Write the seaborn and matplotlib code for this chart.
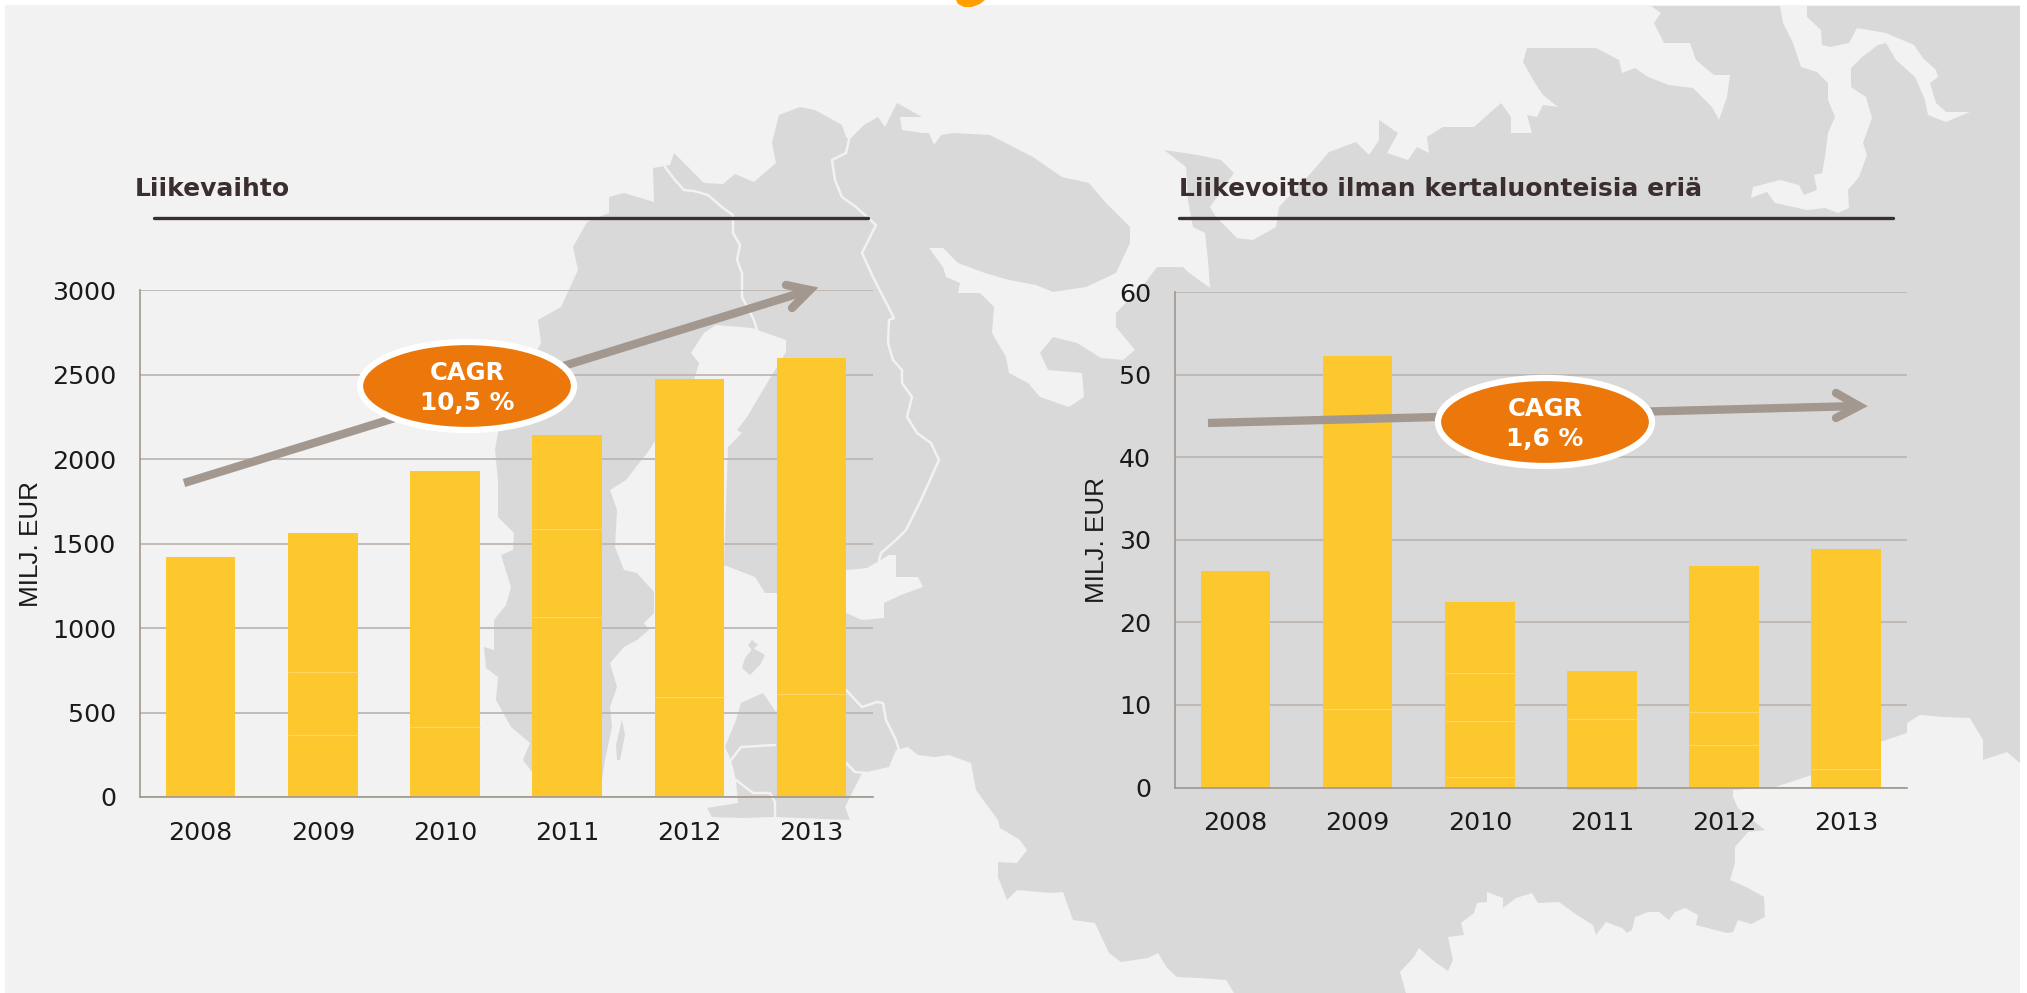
import matplotlib
matplotlib.use('Agg')
import matplotlib.pyplot as plt
from matplotlib.patches import Ellipse, Polygon, Rectangle
import seaborn as sns

# data
years = ['2008', '2009', '2010', '2011', '2012', '2013']
liikevaihto = [1420, 1565, 1930, 2143, 2473, 2597]
liikevoitto = [26.2, 52.3, 22.5, 14.1, 26.8, 28.9]
ticks_left = [0, 500, 1000, 1500, 2000, 2500, 3000]
ticks_right = [0, 10, 20, 30, 40, 50, 60]
# faint seams that show in the bars: (bar index, value)
seams_left = [(1, 742), (1, 366), (2, 413), (3, 1587), (3, 1066), (4, 592), (5, 610)]
seams_right = [(1, 9.5), (2, 13.9), (2, 8.1), (2, 1.25), (3, 8.3), (4, 9.1), (4, 5.1), (5, 2.2)]

W, H = 2027, 993
BG = '#f2f2f2'
LAND = '#d9d9d9'
BAR = '#fdc72e'
GRID = '#bfb7b1'
DARK = '#3a2e2e'
ARROW = '#a39890'
ORANGE = '#ec780b'
BAR_WIDTH = 0.57

# background map outline, pixels of the picture (decoration, not data)
land = [
    (800, 107), (779, 115), (772, 143), (776, 163), (754, 182), (735, 174), (723, 184), (704, 183),
    (691, 170), (674, 153), (670, 165), (653, 168), (654, 202), (624, 193), (609, 197), (609, 213),
    (587, 222), (573, 247), (578, 270), (561, 307), (538, 320), (541, 343), (537, 350), (498, 433),
    (495, 450), (498, 480), (498, 517), (514, 533), (513, 550), (501, 555), (511, 587), (506, 605),
    (494, 620), (494, 650), (484, 647), (486, 668), (498, 677), (496, 700), (511, 727), (530, 743),
    (523, 760), (532, 772), (545, 790), (570, 794), (598, 790), (602, 780), (605, 760), (612, 727),
    (610, 707), (617, 687), (610, 663), (624, 647), (637, 640), (649, 630), (644, 623), (617, 615),
    (603, 622), (644, 623), (654, 613), (654, 592), (637, 573), (624, 570), (615, 547), (617, 510),
    (610, 490), (626, 480), (636, 467), (648, 452), (665, 425), (680, 400), (694, 380), (699, 363),
    (691, 353), (704, 333), (716, 325), (752, 328), (786, 340), (786, 352), (769, 380), (747, 417),
    (737, 430), (742, 433), (728, 447), (724, 565), (755, 577), (765, 593), (777, 593), (846, 570),
    (867, 568), (889, 555), (896, 555), (896, 577), (918, 577), (923, 587), (901, 595), (884, 603),
    (884, 618), (862, 620), (846, 613), (776, 712), (763, 693), (741, 703), (736, 720), (725, 747),
    (731, 760), (736, 780), (738, 803), (707, 808), (712, 817), (741, 818), (775, 817), (850, 820),
    (845, 807), (862, 773), (889, 767), (896, 750), (908, 747), (918, 755), (935, 757), (949, 755),
    (971, 763), (976, 790), (998, 820), (1000, 828), (1020, 840), (1027, 850), (1017, 863), (998, 862),
    (998, 877), (1007, 900), (1017, 890), (1051, 893), (1063, 892), (1073, 920), (1095, 923),
    (1109, 953), (1121, 962), (1148, 958), (1158, 953), (1167, 968), (1177, 977), (1200, 978),
    (1226, 980), (1234, 993), (1406, 993), (1400, 972), (1414, 957), (1419, 948), (1435, 962),
    (1448, 971), (1453, 960), (1448, 937), (1464, 935), (1461, 923), (1474, 913), (1477, 903),
    (1487, 902), (1487, 892), (1503, 898), (1503, 908), (1516, 898), (1532, 893), (1538, 903),
    (1559, 902), (1577, 915), (1593, 925), (1596, 935), (1606, 922), (1622, 928), (1627, 933),
    (1632, 930), (1635, 917), (1648, 912), (1659, 912), (1669, 920), (1675, 912), (1685, 908),
    (1698, 915), (1696, 925), (1727, 933), (1733, 932), (1738, 920), (1751, 924), (1765, 917),
    (1764, 897), (1748, 888), (1730, 880), (1735, 863), (1735, 847), (1748, 832), (1765, 830),
    (1738, 808), (1733, 797), (1733, 790), (1775, 787), (1812, 775), (1880, 742), (1907, 733),
    (1907, 723), (1920, 715), (1944, 717), (1970, 718), (1983, 740), (1983, 760), (2007, 752),
    (2020, 763), (2020, 6),
    (1651, 6), (1661, 13), (1654, 23), (1664, 43), (1690, 43), (1696, 60), (1714, 75), (1730, 75),
    (1727, 97), (1719, 120), (1712, 107), (1693, 88), (1669, 85), (1648, 77), (1635, 68), (1622, 73),
    (1619, 60), (1596, 48), (1527, 48), (1523, 62), (1535, 83), (1543, 95), (1558, 107), (1543, 105),
    (1537, 117), (1527, 115), (1532, 133), (1511, 133), (1511, 117), (1501, 103), (1474, 127),
    (1443, 127), (1427, 137), (1429, 153), (1417, 147), (1408, 160), (1387, 153), (1398, 133),
    (1379, 120), (1400, 113), (1379, 120), (1379, 140), (1369, 155), (1356, 142), (1329, 152),
    (1311, 173), (1279, 207), (1276, 227), (1253, 240), (1237, 238), (1216, 217), (1210, 207),
    (1234, 173), (1221, 160), (1198, 155), (1164, 150), (1186, 167), (1188, 200), (1193, 227),
    (1205, 233), (1208, 260), (1210, 288), (1188, 272), (1183, 267), (1157, 267), (1145, 283),
    (1116, 313), (1116, 327), (1135, 350), (1123, 360), (1101, 358), (1077, 343), (1053, 337),
    (1040, 353), (1048, 370), (1082, 373), (1084, 397), (1069, 407), (1040, 397), (1028, 383),
    (1009, 373), (1006, 357), (992, 333), (994, 307), (980, 293), (958, 293), (960, 283), (946, 277),
    (943, 267), (929, 248), (943, 248), (958, 263), (985, 273), (1009, 280), (1036, 285), (1053, 292),
    (1086, 287), (1116, 273), (1130, 243), (1130, 227), (1106, 203), (1089, 183), (1062, 177),
    (1033, 157), (990, 135), (953, 133), (941, 135), (934, 145), (929, 133), (922, 133), (902, 130),
    (900, 117), (922, 117), (897, 103), (885, 127), (878, 117), (864, 125), (849, 140), (846, 137),
    (842, 125), (815, 110),
]
# the long sea inlet at the top right
inlet = [
    (1780, 6), (1807, 6), (1807, 17), (1821, 30), (1822, 45), (1830, 47), (1849, 43), (1857, 28),
    (1886, 33), (1914, 45), (1923, 58), (1936, 70), (1938, 77), (1930, 83), (1936, 103), (1946, 112),
    (1970, 112), (1946, 122), (1928, 115), (1925, 100), (1915, 77), (1896, 60), (1886, 43), (1878, 45),
    (1862, 57), (1851, 68), (1851, 87), (1866, 97), (1872, 118), (1863, 143), (1867, 155), (1859, 177),
    (1848, 190), (1849, 208), (1838, 213), (1825, 208), (1807, 210), (1775, 203), (1767, 192),
    (1751, 198), (1753, 187), (1780, 180), (1799, 185), (1804, 195), (1817, 190), (1814, 175),
    (1822, 173), (1825, 157), (1828, 133), (1835, 117), (1828, 100), (1828, 83), (1817, 72),
    (1801, 67), (1793, 43), (1783, 23),
]
islands = [
    [(622, 720), (625, 735), (620, 760), (617, 760), (616, 745)],
    [(753, 648), (765, 655), (760, 665), (750, 675), (742, 668), (745, 658)],
    [(752, 640), (758, 645), (752, 650), (748, 645)],
]
# white borders drawn on the land
borders = [
    [(665, 167), (675, 180), (684, 190), (694, 191), (708, 195), (723, 208), (733, 215), (733, 233),
     (740, 245), (737, 260), (742, 273), (742, 297), (754, 320), (757, 330)],
    [(849, 140), (846, 153), (832, 160), (835, 180), (842, 197), (856, 207), (876, 225), (862, 253),
     (873, 277), (894, 318), (889, 320), (888, 343), (893, 360), (902, 370), (902, 383), (912, 397),
     (907, 417), (917, 433), (931, 443), (939, 460), (921, 500), (906, 530), (896, 540), (881, 553),
     (879, 560)],
    [(846, 690), (862, 707), (877, 702), (883, 703), (886, 720), (896, 740), (899, 750)],
    [(731, 760), (741, 747), (775, 745)],
    [(736, 780), (753, 793), (770, 793), (775, 802), (775, 817)],
    [(846, 763), (855, 772), (867, 773)],
]

sns.set_theme(style='white')
plt.rcParams['font.family'] = ['DejaVu Sans']

fig = plt.figure(figsize=(W / 100, H / 100), dpi=100, facecolor='white')


def pixel_axes(z):
    ax = fig.add_axes([0, 0, 1, 1], zorder=z)
    ax.set_xlim(0, W)
    ax.set_ylim(H, 0)
    ax.axis('off')
    ax.patch.set_alpha(0)
    return ax


back = pixel_axes(0)
back.add_patch(Rectangle((5, 5), 2015, 988, fc=BG, ec='none'))
back.add_patch(Polygon(land, closed=True, fc=LAND, ec='none'))
back.add_patch(Polygon(inlet, closed=True, fc=BG, ec='none'))
for isl in islands:
    back.add_patch(Polygon(isl, closed=True, fc=LAND, ec='none'))
for b in borders:
    back.plot([p[0] for p in b], [p[1] for p in b], color=BG, lw=1.8, solid_joinstyle='round')
# leftover of the cut off heading
back.add_patch(Polygon([(956, 0), (958, 4), (964, 7), (972, 7), (980, 4), (985, 0)], closed=True,
                       fc='#ff9f00', ec='none'))


def draw_chart(box, values, ticks, seams, ylabel, label_x):
    x0, y0, x1, y1 = box
    ax = fig.add_axes([x0 / W, 1 - y1 / H, (x1 - x0) / W, (y1 - y0) / H], zorder=1)
    ax.patch.set_alpha(0)
    sns.barplot(x=years, y=values, color=BAR, saturation=1, width=BAR_WIDTH, linewidth=0, ax=ax)
    for i, v in seams:
        ax.hlines(v, i - BAR_WIDTH / 2, i + BAR_WIDTH / 2, color='#fed668', lw=0.9, zorder=4)
    ax.set_xlim(-0.5, 5.5)
    ax.set_ylim(ticks[0], ticks[-1])
    ax.set_yticks(ticks)
    ax.yaxis.grid(True, color=GRID, lw=1.3)
    ax.xaxis.grid(False)
    ax.set_axisbelow(True)
    sns.despine(ax=ax)
    for side in ['left', 'bottom']:
        ax.spines[side].set_color('#a09890')
        ax.spines[side].set_linewidth(1.2)
    ax.tick_params(axis='y', length=0, pad=17, labelsize=18.2, colors='#1a1a1a')
    ax.tick_params(axis='x', length=0, pad=17, labelsize=18.2, colors='#1a1a1a')
    ax.set_xlabel('')
    ax.set_ylabel('')
    fig.text(label_x / W, 1 - ((y0 + y1) / 2 + 0) / H, ylabel, rotation=90, ha='center', va='center',
             fontsize=18.8, family='Liberation Sans', color='#1a1a1a')
    return ax


left_ax = draw_chart((139.5, 290.3, 872.6, 797), liikevaihto, ticks_left, seams_left, 'MILJ. EUR', 31)
right_ax = draw_chart((1174.6, 292.3, 1907, 787.5), liikevoitto, ticks_right, seams_right, 'MILJ. EUR', 1097)
# 2011 sticks out slightly under the axis line
low_bar = right_ax.patches[3]
low_bar.set_y(-0.35)
low_bar.set_height(low_bar.get_height() + 0.35)
low_bar.set_clip_on(False)

top = pixel_axes(2)
for title, x, rule in [('Liikevaihto', 135, (154, 868)),
                       ('Liikevoitto ilman kertaluonteisia eriä', 1179, (1179, 1893))]:
    top.text(x, 189, title, fontsize=18, fontweight='bold', color=DARK, ha='left', va='center')
    top.plot(rule, [218, 218], color=DARK, lw=2.4, solid_capstyle='round')


def cagr(start, tip, wing_a, wing_b, center, label):
    top.plot([start[0], tip[0]], [start[1], tip[1]], color=ARROW, lw=6, solid_capstyle='butt')
    top.plot([wing_a[0], tip[0], wing_b[0]], [wing_a[1], tip[1], wing_b[1]], color=ARROW, lw=6,
             solid_capstyle='round', solid_joinstyle='miter')
    top.add_patch(Ellipse(center, 214, 88, fc=ORANGE, ec='white', lw=4.5, zorder=5))
    top.text(center[0], center[1] - 13, 'CAGR', color='white', fontsize=17.5, fontweight='bold',
             ha='center', va='center', zorder=6)
    top.text(center[0], center[1] + 17, label, color='white', fontsize=17.8, fontweight='bold',
             ha='center', va='center', zorder=6)


cagr((184, 483), (810, 290), (786, 285), (792, 308), (467, 386), '10,5 %')
cagr((1208, 423), (1859, 406), (1836, 393), (1836, 418), (1545, 422), '1,6 %')

fig.savefig('out.png', dpi=100, facecolor='white')
